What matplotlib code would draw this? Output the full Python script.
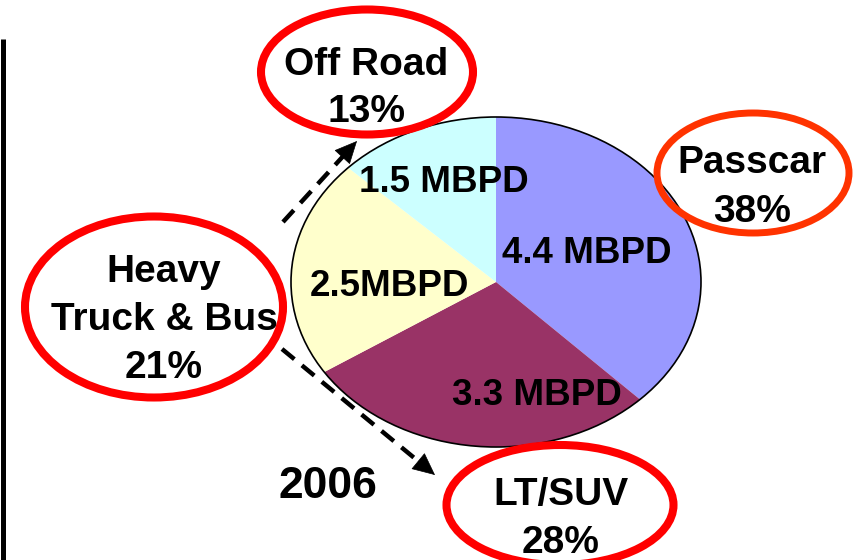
import matplotlib
matplotlib.use("Agg")
import matplotlib.pyplot as plt
from matplotlib.patches import Ellipse, Circle

# data
segments = ["Passcar", "LT/SUV", "Heavy Truck & Bus", "Off Road"]
mbpd = [4.4, 3.3, 2.5, 1.5]
share_pct = [38, 28, 21, 13]
inner_labels = ["4.4 MBPD", "3.3 MBPD", "2.5MBPD", "1.5 MBPD"]
callout_lines = [["Passcar"], ["LT/SUV"], ["Heavy", "Truck & Bus"], ["Off Road"]]
year = "2006"

colors = ["#9999FF", "#993366", "#FFFFCC", "#CCFFFF"]
ring_colors = ["#FF3300", "#FF0000", "#FF0000", "#FF0000"]
plt.rcParams["font.family"] = ["Liberation Sans", "DejaVu Sans"]

W, H = 858, 560
fig = plt.figure(figsize=(W / 100, H / 100), dpi=100)

# pie axes, stretched into an ellipse (pixel box 291..701 x 117..447)
pax = fig.add_axes([291 / W, 1 - 447 / H, 410 / W, 330 / H])
wedges, _ = pax.pie(mbpd, colors=colors, startangle=90, counterclock=False,
                    wedgeprops=dict(linewidth=0))
for w in wedges:
    w.set_clip_on(False)
pax.set_aspect("auto"); pax.set_xlim(-1, 1); pax.set_ylim(-1, 1)
pax.add_patch(Circle((0, 0), 1, fill=False, ec="black", lw=1.2, clip_on=False))
pax.axis("off")

# overlay in pixel coordinates
ax = fig.add_axes([0, 0, 1, 1], facecolor="none")
ax.set_xlim(0, W); ax.set_ylim(H, 0); ax.axis("off")

# inner MBPD labels (baseline positions)
inner_pos = [(587, 263), (537, 405), (389, 296), (444, 192)]
for (x, y), t in zip(inner_pos, inner_labels):
    ax.text(x, y, t, ha="center", va="baseline", fontsize=26.5, fontweight="bold")

# callout ellipses: center, width, height, stroke
rings = [((753, 173), 192, 120, 5.0), ((560, 505), 227, 120, 5.8),
         ((154, 307), 258, 181, 5.8), ((367, 72), 212, 125, 5.8)]
# text x and baselines for each line, the last one is the percent line
text_base = [(752, [173, 222]), (561, [505, 553]), (164, [282, 330, 378]), (366, [75, 122])]
for i, ((c, w, h, lw), (tx, ys)) in enumerate(zip(rings, text_base)):
    ax.add_patch(Ellipse(c, w, h, fill=False, ec=ring_colors[i], lw=lw, clip_on=False))
    lines = callout_lines[i] + [f"{share_pct[i]}%"]
    for t, y in zip(lines, ys):
        ax.text(tx, y, t, ha="center", va="baseline", fontsize=28, fontweight="bold")

ax.text(328, 498, year, ha="center", va="baseline", fontsize=32, fontweight="bold")

# dashed arrows
for (x0, y0), (x1, y1) in [((283, 222), (357, 141)), ((282, 349), (435, 475))]:
    dx, dy = x1 - x0, y1 - y0
    f = 18 / (dx ** 2 + dy ** 2) ** 0.5
    ax.plot([x0, x1 - dx * f], [y0, y1 - dy * f], color="black", lw=3.2,
            linestyle=(0, (3.6, 2.2)), solid_capstyle="butt")
    ax.annotate("", xy=(x1, y1), xytext=(x1 - dx * f * 1.2, y1 - dy * f * 1.2),
                arrowprops=dict(arrowstyle="-|>,head_length=0.75,head_width=0.35",
                                mutation_scale=20, color="black", lw=0.5,
                                shrinkA=0, shrinkB=0))

# left border line
ax.plot([2.5, 2.5], [39, H], color="black", lw=3.6, solid_capstyle="butt")

fig.savefig("out.png", dpi=100)
